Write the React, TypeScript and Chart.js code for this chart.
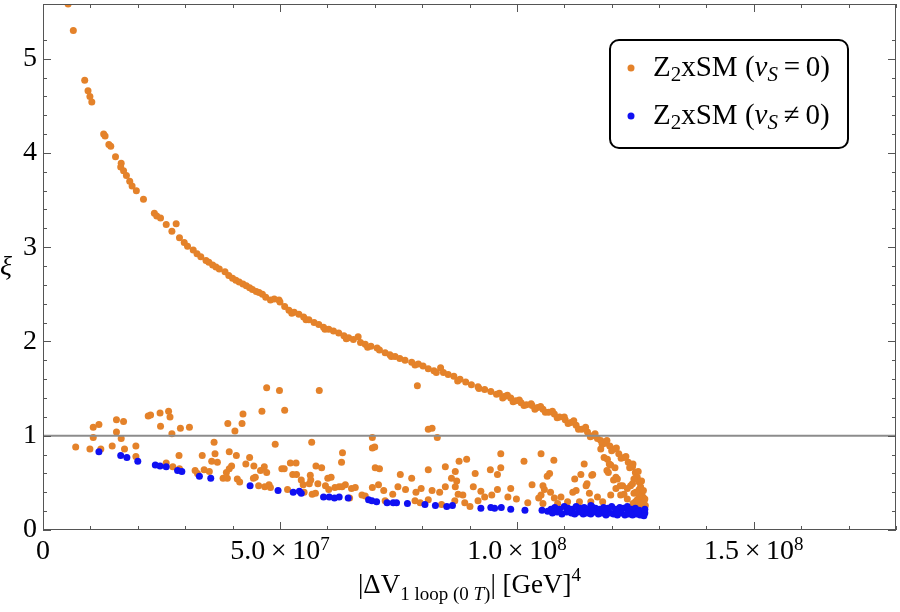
import React, { useEffect, useRef } from "react";
import { Chart, registerables } from "chart.js";

Chart.register(...registerables);

// x values are in units of 10^7 GeV^4, y is xi
const curvePoints: [number, number][] = [
  [0.53, 5.58], [0.64, 5.3], [0.88, 4.77], [0.95, 4.66], [0.99, 4.6], [1.03, 4.54],
  [1.28, 4.2], [1.31, 4.18], [1.39, 4.09], [1.43, 4.07], [1.53, 3.96], [1.65, 3.89],
  [1.64, 3.85], [1.7, 3.81], [1.76, 3.76], [1.83, 3.7], [1.88, 3.65], [1.97, 3.6],
  [2.12, 3.51], [2.35, 3.36], [2.4, 3.33], [2.48, 3.31], [2.6, 3.24], [2.81, 3.25],
  [2.72, 3.17], [2.88, 3.1], [2.98, 3.05], [3.05, 3.01], [3.17, 2.97], [3.25, 2.93],
  [3.33, 2.9], [3.44, 2.86], [3.5, 2.84], [3.58, 2.81], [3.65, 2.79], [3.72, 2.77],
  [3.84, 2.74], [3.92, 2.7], [4.0, 2.67], [4.07, 2.65], [4.14, 2.63], [4.22, 2.61],
  [4.29, 2.59], [4.36, 2.57], [4.42, 2.55], [4.5, 2.53], [4.56, 2.52], [4.63, 2.5],
  [4.7, 2.47], [4.8, 2.44], [4.88, 2.45], [4.98, 2.44], [5.0, 2.42], [5.1, 2.37],
  [5.19, 2.33], [5.25, 2.3], [5.3, 2.31], [5.4, 2.29], [5.5, 2.26], [5.55, 2.23],
  [5.61, 2.23], [5.72, 2.2], [5.82, 2.18], [5.92, 2.15], [5.95, 2.13], [6.03, 2.13],
  [6.13, 2.11], [6.24, 2.09], [6.35, 2.06], [6.4, 2.03], [6.45, 2.04], [6.55, 2.02],
  [6.65, 2.05], [6.7, 1.99], [6.8, 1.97], [6.85, 1.94], [6.92, 1.95], [7.05, 1.93],
  [7.1, 1.91], [7.22, 1.88], [7.32, 1.86], [7.35, 1.84], [7.43, 1.84], [7.53, 1.82],
  [7.64, 1.8], [7.78, 1.78], [7.85, 1.75], [7.92, 1.76], [8.02, 1.74], [8.13, 1.71],
  [8.25, 1.69], [8.3, 1.67], [8.39, 1.72], [8.45, 1.67], [8.55, 1.65], [8.67, 1.63],
  [8.75, 1.58], [8.8, 1.6], [8.92, 1.57], [9.04, 1.54], [9.18, 1.52], [9.2, 1.5],
  [9.32, 1.49], [9.45, 1.47], [9.57, 1.44], [9.63, 1.45], [9.7, 1.4], [9.75, 1.42],
  [9.87, 1.4], [9.92, 1.36], [9.98, 1.37], [10.09, 1.35], [10.15, 1.32], [10.2, 1.33],
  [10.32, 1.32], [10.38, 1.28], [10.44, 1.3], [10.55, 1.28], [10.6, 1.25], [10.67, 1.25],
  [10.79, 1.23], [10.85, 1.19], [10.9, 1.2], [11.02, 1.17], [11.08, 1.13], [11.14, 1.14],
  [11.25, 1.11], [11.3, 1.07], [11.37, 1.07], [11.49, 1.04], [11.55, 0.99], [11.6, 1.0],
  [11.7, 0.97], [11.77, 0.95], [11.8, 0.91], [11.87, 0.92], [11.96, 0.89], [12.0, 0.84],
  [12.05, 0.86], [12.15, 0.81], [12.2, 0.76], [12.26, 0.77], [12.35, 0.72], [12.38, 0.66],
  [12.44, 0.67], [12.5, 0.61], [12.5, 0.55], [12.54, 0.56], [12.58, 0.51], [12.58, 0.43],
  [12.61, 0.46], [12.64, 0.4], [12.62, 0.32], [12.66, 0.35], [12.68, 0.3], [12.68, 0.25],
  [12.64, 0.22], [12.69, 0.2],
  [9.8, 1.43], [10.05, 1.38], [10.3, 1.34], [10.5, 1.31], [10.75, 1.26], [11.0, 1.2],
  [11.2, 1.16], [11.45, 1.09], [11.65, 1.02], [11.9, 0.95], [12.1, 0.87], [12.3, 0.78],
  [12.45, 0.7], [12.56, 0.62], [12.63, 0.52], [12.67, 0.42], [12.7, 0.33], [12.71, 0.26],
  [12.55, 0.25], [12.6, 0.28], [12.5, 0.3], [12.58, 0.36], [12.45, 0.28],
];

const scatterPoints: [number, number][] = [
  [0.69, 0.88], [0.99, 0.86], [1.06, 1.09], [1.18, 1.12], [1.06, 0.98], [1.22, 0.86],
  [1.46, 0.89], [1.55, 1.17], [1.7, 1.15], [1.55, 1.04], [1.65, 0.97], [1.72, 0.86],
  [1.96, 0.89], [1.96, 0.78], [2.22, 1.21], [2.27, 1.22], [2.47, 1.24], [2.65, 1.26],
  [2.68, 1.2], [2.48, 1.1], [2.72, 1.02], [2.9, 1.08], [3.09, 1.09], [2.87, 0.79],
  [2.6, 0.71], [2.74, 0.67], [2.88, 0.65], [3.21, 0.63], [3.26, 0.6],
  [4.72, 1.51], [4.99, 1.48], [5.83, 1.48], [4.62, 1.26], [5.1, 1.27], [4.22, 1.23],
  [3.9, 1.13], [4.2, 1.13], [4.05, 1.05], [3.61, 0.93], [4.9, 0.91], [5.67, 0.93],
  [6.32, 0.82], [6.3, 0.72], [3.36, 0.79], [3.63, 0.81], [3.93, 0.83], [4.08, 0.79],
  [4.36, 0.77], [3.56, 0.73], [3.68, 0.72], [4.28, 0.7], [4.45, 0.68], [3.98, 0.68],
  [3.93, 0.65], [3.4, 0.64], [3.51, 0.62], [3.87, 0.61], [4.67, 0.67], [4.59, 0.63],
  [4.72, 0.61], [5.04, 0.65], [5.09, 0.65], [5.22, 0.71], [5.34, 0.71], [5.27, 0.59],
  [5.35, 0.59], [5.76, 0.68], [5.88, 0.66], [3.8, 0.55], [3.89, 0.55], [4.1, 0.54],
  [4.15, 0.51], [4.44, 0.55], [4.48, 0.56], [4.55, 0.47], [4.68, 0.46], [4.77, 0.48],
  [4.8, 0.45], [5.45, 0.53], [5.49, 0.48], [5.64, 0.58], [5.65, 0.53], [5.62, 0.49],
  [5.8, 0.49], [6.01, 0.55], [6.08, 0.56], [5.96, 0.47], [5.16, 0.43], [5.51, 0.4],
  [5.68, 0.38], [5.75, 0.39], [6.03, 0.43], [6.16, 0.45], [6.25, 0.46], [6.38, 0.48],
  [7.9, 1.53], [8.13, 1.07], [8.21, 1.08], [8.32, 0.98], [6.95, 0.98], [6.95, 0.87],
  [7.0, 0.88], [7.01, 0.66], [7.1, 0.65], [8.13, 0.64], [8.49, 0.67], [8.78, 0.73],
  [8.94, 0.75], [8.7, 0.62], [9.44, 0.64], [7.54, 0.59], [7.78, 0.55], [8.62, 0.55],
  [8.73, 0.52], [9.12, 0.6], [9.59, 0.59], [6.31, 0.46], [6.51, 0.44], [6.59, 0.45],
  [6.95, 0.45], [7.08, 0.48], [7.19, 0.42], [7.49, 0.46], [7.65, 0.43], [7.38, 0.38],
  [7.87, 0.4], [7.98, 0.44], [8.21, 0.42], [8.37, 0.4], [8.49, 0.46], [8.7, 0.46],
  [8.76, 0.38], [8.86, 0.37], [9.08, 0.46], [9.24, 0.41], [9.32, 0.35], [9.47, 0.37],
  [6.47, 0.34], [6.73, 0.37], [6.8, 0.36], [7.22, 0.31], [7.85, 0.31], [7.96, 0.29],
  [8.13, 0.32], [8.41, 0.27], [8.69, 0.31], [8.9, 0.29], [9.01, 0.25], [9.18, 0.31],
  [9.66, 0.81], [10.51, 0.81], [10.15, 0.73], [10.78, 0.74], [9.66, 0.66], [10.69, 0.6],
  [10.64, 0.57], [10.32, 0.48], [10.55, 0.47], [10.58, 0.43], [9.87, 0.44], [9.59, 0.43],
  [9.81, 0.35], [9.99, 0.33], [10.23, 0.29], [10.46, 0.34], [10.79, 0.34], [11.42, 0.7],
  [11.22, 0.54], [11.35, 0.59], [11.6, 0.59], [11.77, 0.86], [11.84, 0.77], [11.91, 0.75],
  [11.98, 0.69], [12.07, 0.66], [11.9, 0.63], [12.09, 0.56], [12.18, 0.47], [12.4, 0.47],
  [12.47, 0.54], [11.48, 0.49], [11.25, 0.42], [12.26, 0.38], [12.51, 0.4],
  [10.51, 0.37], [10.71, 0.4], [10.93, 0.35], [11.18, 0.4], [11.46, 0.47], [11.58, 0.58],
  [11.53, 0.39], [11.7, 0.35], [11.32, 0.3], [11.95, 0.7], [11.93, 0.61], [12.04, 0.53],
  [12.12, 0.54], [12.23, 0.47], [12.33, 0.44], [12.44, 0.49], [12.09, 0.44], [11.98, 0.37],
  [12.19, 0.37], [12.33, 0.33], [12.47, 0.39], [12.54, 0.32], [11.81, 0.3], [11.56, 0.3],
  [11.07, 0.3], [10.86, 0.28], [10.55, 0.28],
];

const bluePoints: [number, number][] = [
  [1.18, 0.83], [1.64, 0.79], [1.77, 0.77], [2.0, 0.73], [2.37, 0.69], [2.47, 0.68],
  [2.6, 0.67], [2.84, 0.63], [2.93, 0.62], [3.3, 0.57], [3.54, 0.55], [4.37, 0.47],
  [4.96, 0.42], [5.28, 0.4], [5.41, 0.41], [5.45, 0.39], [5.92, 0.35], [6.04, 0.35],
  [6.15, 0.34], [6.25, 0.35], [6.44, 0.34], [6.87, 0.32], [6.94, 0.31], [7.04, 0.3],
  [7.26, 0.29], [7.39, 0.29], [7.46, 0.29], [7.69, 0.28], [8.06, 0.27], [8.28, 0.26],
  [8.52, 0.25], [8.64, 0.26], [9.24, 0.23], [9.45, 0.24], [9.53, 0.23], [9.67, 0.24],
  [9.87, 0.22], [10.17, 0.21], [10.53, 0.21], [10.65, 0.2],
  [10.72, 0.22], [10.8, 0.24], [10.9, 0.22], [11.0, 0.25], [11.08, 0.23], [11.17, 0.22],
  [11.25, 0.25], [11.33, 0.23], [11.42, 0.24], [11.5, 0.22], [11.58, 0.25], [11.66, 0.23],
  [11.75, 0.22], [11.83, 0.24], [11.92, 0.23], [12.0, 0.25], [12.08, 0.22], [12.17, 0.24],
  [12.25, 0.23], [12.33, 0.25], [12.42, 0.22], [12.5, 0.23], [12.58, 0.21], [12.66, 0.2],
  [10.75, 0.18], [10.85, 0.19], [10.95, 0.17], [11.05, 0.19], [11.15, 0.18], [11.22, 0.17],
  [11.3, 0.19], [11.4, 0.17], [11.48, 0.18], [11.56, 0.17], [11.64, 0.19], [11.72, 0.17],
  [11.8, 0.18], [11.88, 0.16], [11.96, 0.18], [12.04, 0.17], [12.12, 0.16], [12.2, 0.18],
  [12.28, 0.16], [12.36, 0.17], [12.44, 0.16], [12.52, 0.17], [12.6, 0.16], [12.68, 0.15],
  [10.8, 0.2], [11.1, 0.21], [11.35, 0.2], [11.56, 0.26], [11.6, 0.2], [11.85, 0.2],
  [12.1, 0.19], [12.35, 0.19], [12.55, 0.19], [12.7, 0.18], [12.7, 0.22],
];

// major x ticks (in 10^7) with mantissa / exponent of their labels
const xMajorTicks = [0, 5, 10, 15];
const xTickMantissas = ["0", "5.0", "1.0", "1.5"];
const xTickExponents = ["", "7", "8", "8"];
const yTickLabels = ["0", "1", "2", "3", "4", "5"];
const guideLineY = 1;

const ORANGE = "#E4822A";
const BLUE = "#1010F2";
const SERIF = "'Liberation Serif', 'DejaVu Serif', serif";
const TS = "\u2009";

type Part = { t: string; size: number; italic?: boolean; dy?: number };

function drawRich(ctx: CanvasRenderingContext2D, parts: Part[], x: number, y: number, align: "left" | "center") {
  const font = (p: Part) => `${p.italic ? "italic " : ""}${p.size}px ${SERIF}`;
  let total = 0;
  parts.forEach((p) => {
    ctx.font = font(p);
    total += ctx.measureText(p.t).width;
  });
  let cx = align === "center" ? x - total / 2 : x;
  ctx.textAlign = "left";
  ctx.textBaseline = "alphabetic";
  parts.forEach((p) => {
    ctx.font = font(p);
    ctx.fillText(p.t, cx, y + (p.dy ?? 0));
    cx += ctx.measureText(p.t).width;
  });
}

const decorPlugin = {
  id: "decor",
  afterDatasetsDraw(chart: any) {
    const { ctx, chartArea, scales } = chart;
    const py = scales.y.getPixelForValue(guideLineY);
    ctx.save();
    ctx.strokeStyle = "#8c8c8c";
    ctx.lineWidth = 2;
    ctx.beginPath();
    ctx.moveTo(chartArea.left, py);
    ctx.lineTo(chartArea.right, py);
    ctx.stroke();
    ctx.restore();
  },
  afterDraw(chart: any) {
    const { ctx, chartArea, scales } = chart;
    const { left, right, top, bottom } = chartArea;
    ctx.save();
    ctx.fillStyle = "#000";

    // frame
    ctx.strokeStyle = "#555";
    ctx.lineWidth = 1;
    ctx.strokeRect(left + 0.5, top + 0.5, right - left - 1, bottom - top - 1);

    // inward ticks on all four sides
    ctx.beginPath();
    scales.x.ticks.forEach((t: any) => {
      const k = Math.round(t.value / 1e7);
      if (Math.abs(t.value / 1e7 - k) > 1e-6) return;
      const len = k % 5 === 0 ? 8 : 4;
      const px = Math.round(scales.x.getPixelForValue(t.value)) + 0.5;
      ctx.moveTo(px, bottom);
      ctx.lineTo(px, bottom - len);
      ctx.moveTo(px, top);
      ctx.lineTo(px, top + len);
    });
    scales.y.ticks.forEach((t: any) => {
      const k = Math.round(t.value * 5);
      if (Math.abs(t.value * 5 - k) > 1e-6) return;
      const len = k % 5 === 0 ? 8 : 4;
      const py = Math.round(scales.y.getPixelForValue(t.value)) + 0.5;
      ctx.moveTo(left, py);
      ctx.lineTo(left + len, py);
      ctx.moveTo(right, py);
      ctx.lineTo(right - len, py);
    });
    ctx.stroke();

    // x tick labels with superscript exponents
    ctx.fillStyle = "#000";
    xMajorTicks.forEach((k, i) => {
      const px = scales.x.getPixelForValue(k * 1e7);
      const parts: Part[] = xTickExponents[i]
        ? [
            { t: `${xTickMantissas[i]}${TS}×${TS}10`, size: 28 },
            { t: xTickExponents[i], size: 19, dy: -9 },
          ]
        : [{ t: xTickMantissas[i], size: 28 }];
      drawRich(ctx, parts, px, 559, "center");
    });

    // axis titles
    drawRich(
      ctx,
      [
        { t: "|ΔV", size: 27 },
        { t: "1 loop (0 ", size: 19, dy: 7 },
        { t: "T", size: 19, italic: true, dy: 7 },
        { t: ")", size: 19, dy: 7 },
        { t: "| [GeV]", size: 27 },
        { t: "4", size: 19, dy: -12 },
      ],
      (left + right) / 2,
      593,
      "center"
    );
    drawRich(ctx, [{ t: "ξ", size: 28, italic: true }], 6, 275, "center");

    // legend
    const bx = 610, by = 40, bw = 238, bh = 108, r = 9;
    ctx.beginPath();
    ctx.moveTo(bx + r, by);
    ctx.arcTo(bx + bw, by, bx + bw, by + bh, r);
    ctx.arcTo(bx + bw, by + bh, bx, by + bh, r);
    ctx.arcTo(bx, by + bh, bx, by, r);
    ctx.arcTo(bx, by, bx + bw, by, r);
    ctx.closePath();
    ctx.fillStyle = "#fff";
    ctx.fill();
    ctx.strokeStyle = "#000";
    ctx.lineWidth = 2;
    ctx.stroke();

    const rows: [string, string, number][] = [
      [ORANGE, `${TS}=${TS}0)`, 76],
      [BLUE, `${TS}≠${TS}0)`, 124],
    ];
    rows.forEach(([color, tail, baseY]) => {
      ctx.fillStyle = color;
      ctx.beginPath();
      ctx.arc(631, baseY - 8, 3.5, 0, Math.PI * 2);
      ctx.fill();
      ctx.fillStyle = "#000";
      drawRich(
        ctx,
        [
          { t: "Z", size: 29 },
          { t: "2", size: 21, dy: 5 },
          { t: "xSM (", size: 29 },
          { t: "v", size: 29, italic: true },
          { t: "S", size: 21, italic: true, dy: 5 },
          { t: tail, size: 29 },
        ],
        653,
        baseY,
        "left"
      );
    });
    ctx.restore();
  },
};

export default function App() {
  const canvasRef = useRef<HTMLCanvasElement | null>(null);

  useEffect(() => {
    if (!canvasRef.current) return;
    const toXY = (pts: [number, number][]) => pts.map(([x, y]) => ({ x: x * 1e7, y }));

    const chart = new Chart(canvasRef.current, {
      type: "scatter",
      data: {
        datasets: [
          {
            label: "Z2xSM (vS≠0)",
            data: toXY(bluePoints),
            backgroundColor: BLUE,
            borderWidth: 0,
            pointRadius: 3.5,
            order: 0,
          },
          {
            label: "Z2xSM (vS=0)",
            data: toXY([...curvePoints, ...scatterPoints]),
            backgroundColor: ORANGE,
            borderWidth: 0,
            pointRadius: 3.5,
            order: 1,
          },
        ],
      },
      options: {
        responsive: false,
        animation: false,
        devicePixelRatio: 1,
        layout: { padding: { top: 0, right: 0, left: 0, bottom: 0 } },
        plugins: { legend: { display: false }, tooltip: { enabled: false } },
        scales: {
          x: {
            type: "linear",
            min: 0,
            max: 1.8e8,
            grid: { display: false, drawTicks: false },
            border: { display: false },
            afterFit: (s: any) => {
              s.height = 82;
              s.paddingLeft = 0;
              s.paddingRight = 0;
            },
            ticks: { stepSize: 1e7, autoSkip: false, display: false },
          },
          y: {
            type: "linear",
            min: 0,
            max: 5.58,
            grid: { display: false, drawTicks: false },
            border: { display: false },
            afterFit: (s: any) => {
              s.width = 43;
              s.paddingTop = 0;
              s.paddingBottom = 0;
            },
            ticks: {
              stepSize: 0.2,
              autoSkip: false,
              padding: 6,
              color: "#000",
              font: { family: SERIF, size: 28 },
              callback: (v: any) => {
                const n = Number(v);
                const k = Math.round(n);
                if (Math.abs(n - k) > 1e-6) return "";
                return yTickLabels[k] ?? "";
              },
            },
          },
        },
      },
      plugins: [decorPlugin],
    });

    return () => chart.destroy();
  }, []);

  return (
    <div style={{ position: "fixed", left: 0, top: 0, width: 900, height: 612, background: "#fff" }}>
      <canvas ref={canvasRef} width={900} height={612} style={{ display: "block" }} />
    </div>
  );
}
